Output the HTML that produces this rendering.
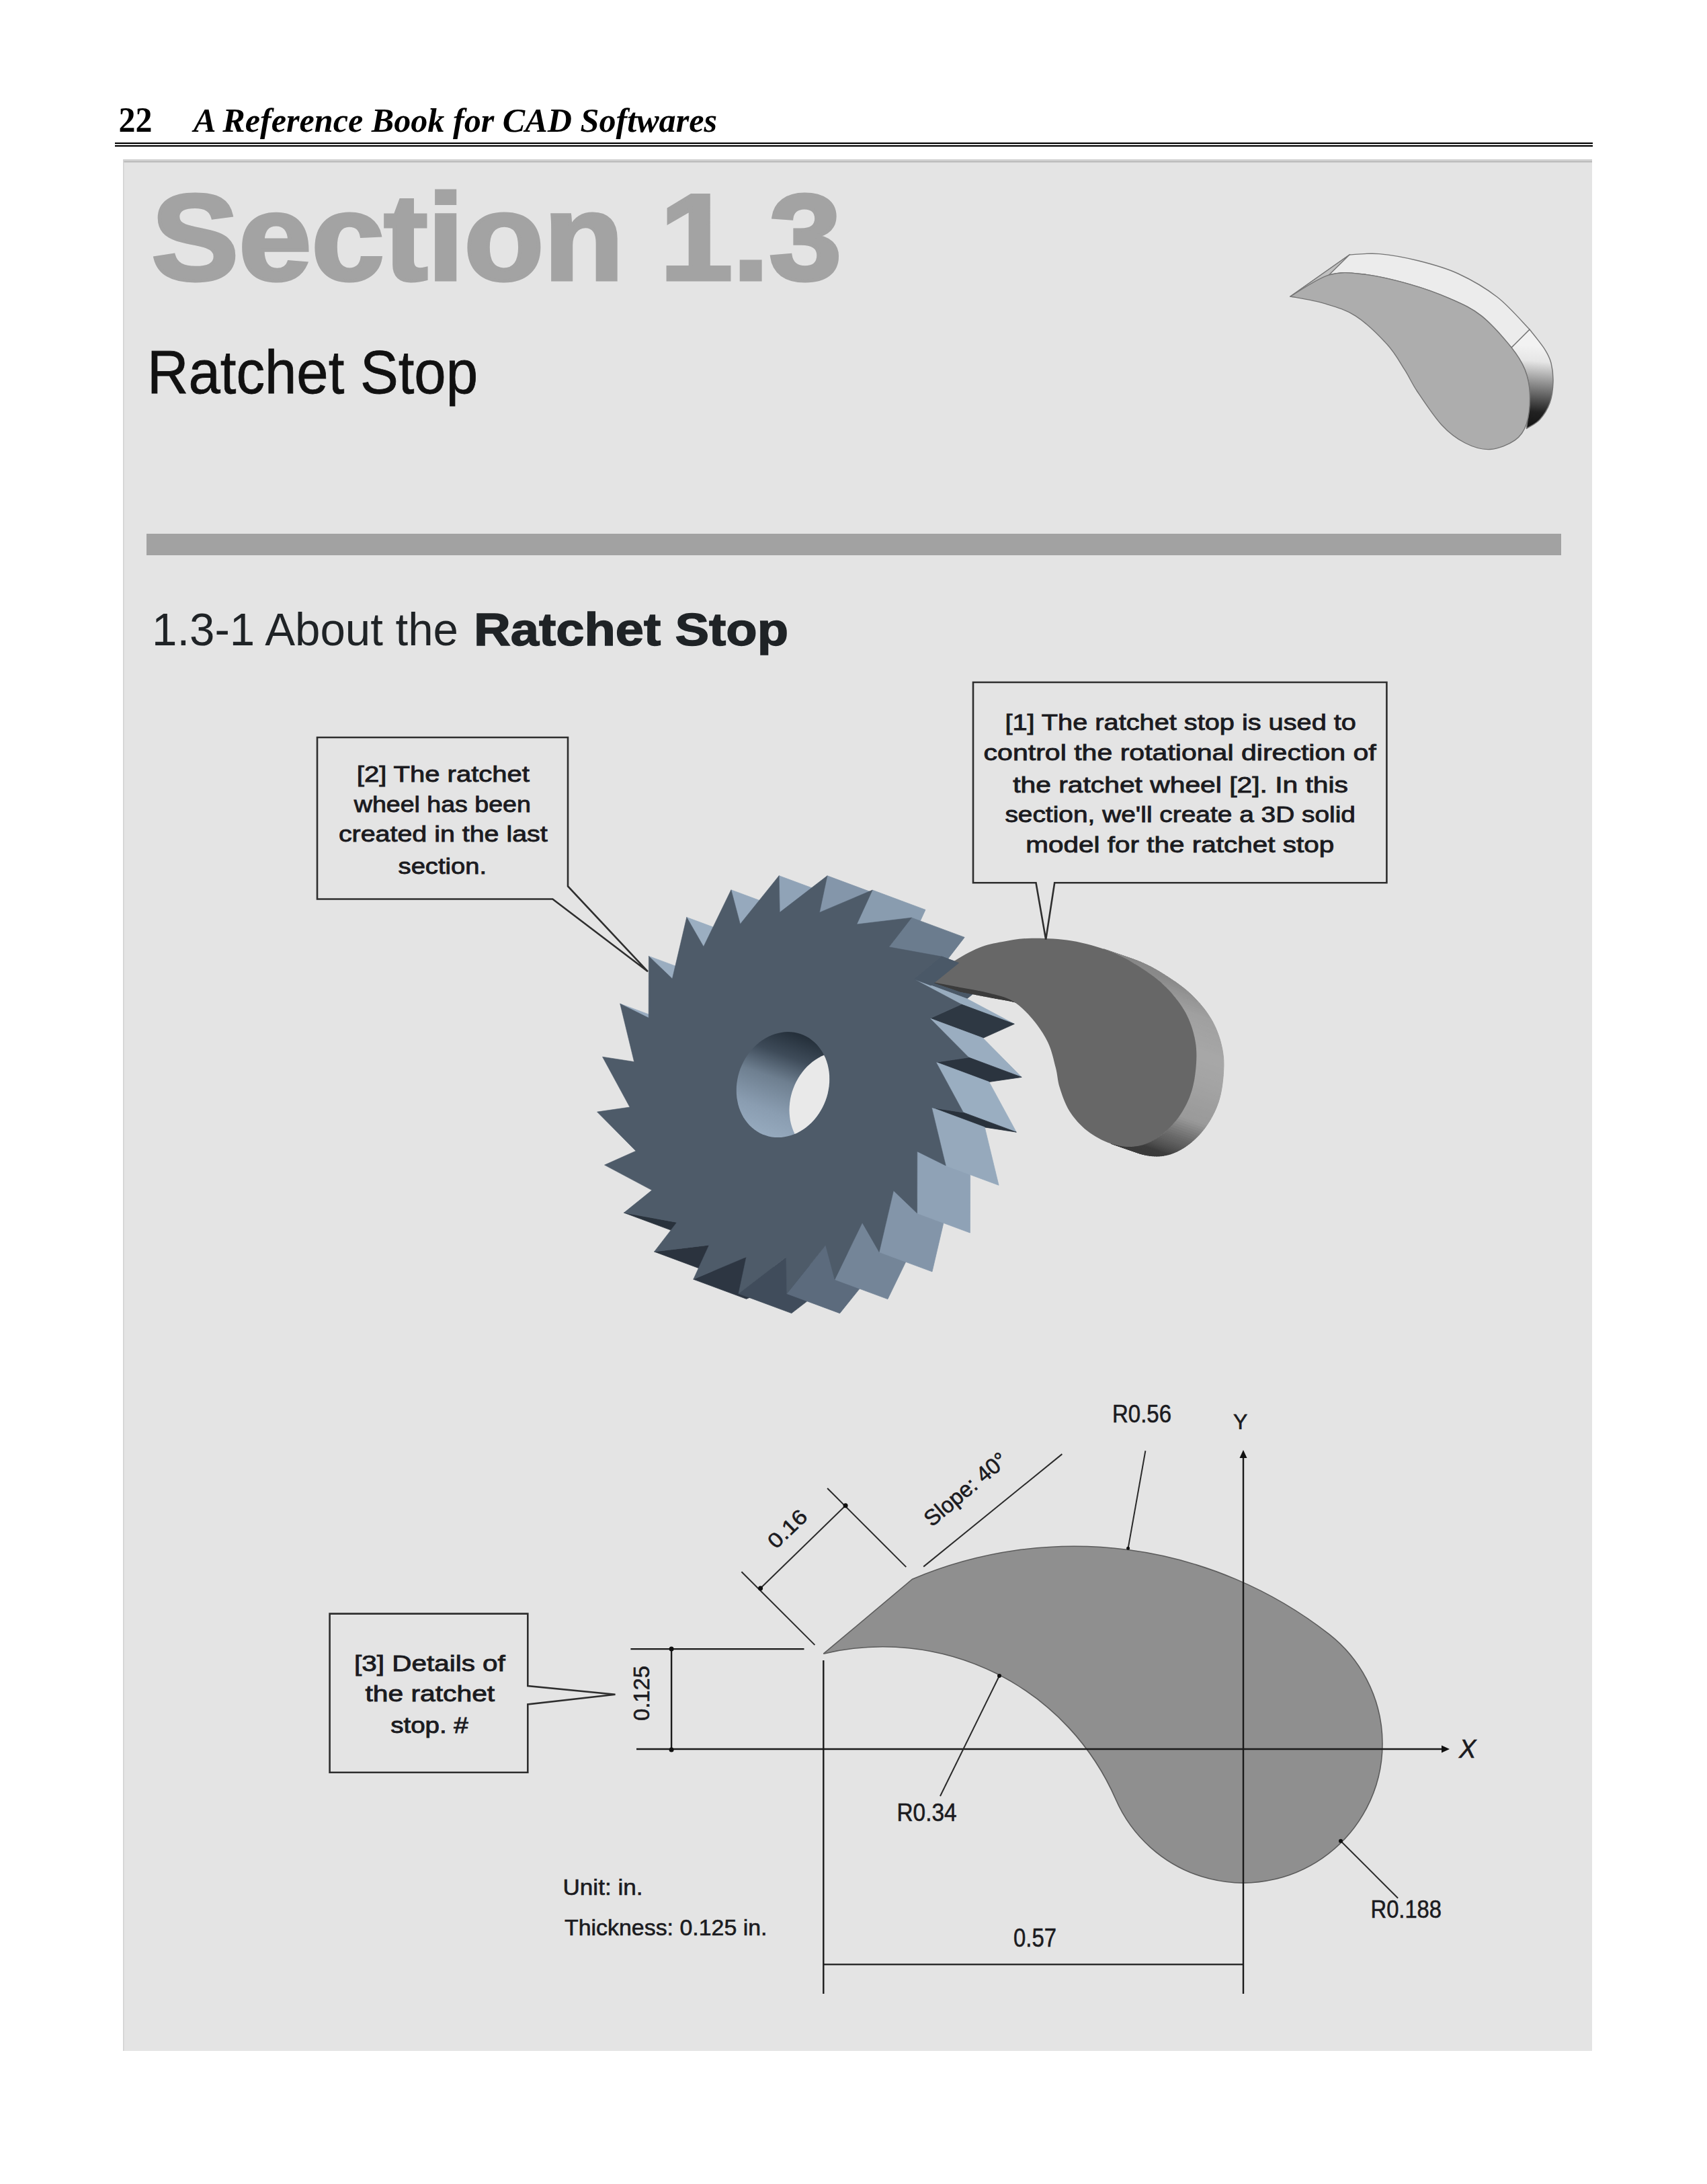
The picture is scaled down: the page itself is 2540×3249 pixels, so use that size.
<!DOCTYPE html>
<html><head><meta charset="utf-8">
<style>
html,body{margin:0;padding:0;background:#fff;}
body{width:2540px;height:3249px;position:relative;overflow:hidden;}
svg{position:absolute;left:0;top:0;}
</style></head>
<body>
<svg width="2540" height="3249" viewBox="0 0 2540 3249">
<defs>
<linearGradient id="holegrad" gradientUnits="userSpaceOnUse" x1="1185" y1="1538" x2="1130" y2="1690">
<stop offset="0" stop-color="#25303b"/><stop offset="0.22" stop-color="#3e4b59"/><stop offset="0.45" stop-color="#6e7f90"/><stop offset="0.75" stop-color="#8a9db1"/><stop offset="1" stop-color="#97abbf"/>
</linearGradient>
<linearGradient id="stopside" gradientUnits="userSpaceOnUse" x1="1700" y1="1420" x2="1700" y2="1722">
<stop offset="0" stop-color="#8a8a8a"/><stop offset="0.25" stop-color="#a0a0a0"/><stop offset="0.53" stop-color="#a8a8a8"/><stop offset="0.69" stop-color="#9a9a9a"/><stop offset="0.83" stop-color="#6a6a6a"/><stop offset="0.96" stop-color="#3c3c3c"/><stop offset="1" stop-color="#383838"/>
</linearGradient>
<linearGradient id="iconside" gradientUnits="userSpaceOnUse" x1="2290" y1="515" x2="2280" y2="640">
<stop offset="0" stop-color="#f2f2f2"/><stop offset="0.18" stop-color="#e6e6e6"/><stop offset="0.45" stop-color="#8c8c8c"/><stop offset="0.78" stop-color="#222"/><stop offset="1" stop-color="#111"/>
</linearGradient>
</defs>
<!-- header -->
<text x="176.5" y="196.4" font-family="Liberation Serif, serif" font-weight="bold" font-size="52" fill="#000" textLength="50" lengthAdjust="spacingAndGlyphs">22</text>
<text x="288" y="196.2" font-family="Liberation Serif, serif" font-weight="bold" font-style="italic" font-size="51" fill="#000" textLength="779" lengthAdjust="spacingAndGlyphs">A Reference Book for CAD Softwares</text>
<rect x="171" y="212" width="2199" height="2.2" fill="#000"/>
<rect x="171" y="216" width="2199" height="2.2" fill="#000"/>
<!-- panel -->
<rect x="183" y="237" width="2186" height="2814" fill="#e4e4e4"/>
<rect x="183" y="237" width="2186" height="3" fill="#cfcfcf"/>
<rect x="183" y="240" width="2186" height="1.5" fill="#b2b2b2"/>
<rect x="183" y="237" width="1.5" height="2814" fill="#d2d2d2"/>
<!-- titles -->
<text x="225.5" y="415.5" font-family="Liberation Sans, sans-serif" font-weight="bold" font-size="181" fill="#a3a3a3" stroke="#a3a3a3" stroke-width="5" textLength="1027" lengthAdjust="spacingAndGlyphs">Section 1.3</text>
<text x="219" y="585" font-family="Liberation Sans, sans-serif" font-size="91" fill="#111" stroke="#111" stroke-width="0.8" textLength="492" lengthAdjust="spacingAndGlyphs">Ratchet Stop</text>
<rect x="218" y="794" width="2105" height="32" fill="#a2a2a2"/>
<text x="226" y="960.4" font-family="Liberation Sans, sans-serif" font-size="69" fill="#1f2326"><tspan textLength="456" lengthAdjust="spacingAndGlyphs">1.3-1 About the</tspan></text>
<text x="705" y="960.4" font-family="Liberation Sans, sans-serif" font-weight="bold" font-size="69" fill="#1f2326" stroke="#1f2326" stroke-width="1.5" textLength="468" lengthAdjust="spacingAndGlyphs">Ratchet Stop</text>

<!-- wheel -->
<polygon points="965.2,1514.3 922.7,1493.2 1001.4,1522.4 1044.0,1543.6" fill="#98abbf" stroke="#98abbf" stroke-width="0.8" stroke-linejoin="round"/>
<polygon points="1000.4,1456.0 965.4,1422.4 1044.2,1451.6 1079.2,1485.2" fill="#9aadc0" stroke="#9aadc0" stroke-width="0.8" stroke-linejoin="round"/>
<polygon points="1046.9,1408.3 1021.8,1364.6 1100.5,1393.8 1125.7,1437.6" fill="#9baec1" stroke="#9baec1" stroke-width="0.8" stroke-linejoin="round"/>
<polygon points="1101.4,1374.7 1087.9,1323.8 1166.6,1353.0 1180.2,1403.9" fill="#96a9bd" stroke="#96a9bd" stroke-width="0.8" stroke-linejoin="round"/>
<polygon points="928.5,1804.1 1007.2,1818.4 1086.0,1847.7 1007.2,1833.3" fill="#29323c" stroke="#29323c" stroke-width="0.8" stroke-linejoin="round"/>
<polygon points="1160.2,1357.3 1159.2,1302.7 1238.0,1332.0 1239.0,1386.5" fill="#90a3b7" stroke="#90a3b7" stroke-width="0.8" stroke-linejoin="round"/>
<polygon points="973.6,1862.0 1055.2,1852.2 1133.9,1881.5 1052.4,1891.3" fill="#2b333e" stroke="#2b333e" stroke-width="0.8" stroke-linejoin="round"/>
<polygon points="1219.4,1357.4 1231.0,1302.8 1309.7,1332.1 1298.2,1386.6" fill="#8496aa" stroke="#8496aa" stroke-width="0.8" stroke-linejoin="round"/>
<polygon points="1031.8,1903.1 1110.6,1869.8 1189.4,1899.0 1110.6,1932.3" fill="#2d3642" stroke="#2d3642" stroke-width="0.8" stroke-linejoin="round"/>
<polygon points="1274.8,1375.0 1298.2,1324.1 1377.0,1353.4 1353.6,1404.2" fill="#899caf" stroke="#899caf" stroke-width="0.8" stroke-linejoin="round"/>
<polygon points="1099.0,1924.4 1169.8,1869.9 1248.5,1899.1 1177.8,1953.6" fill="#404c5b" stroke="#404c5b" stroke-width="0.8" stroke-linejoin="round"/>
<polygon points="1322.8,1408.8 1356.4,1365.2 1435.2,1394.4 1401.6,1438.0" fill="#6b7c8e" stroke="#6b7c8e" stroke-width="0.8" stroke-linejoin="round"/>
<polygon points="1170.8,1924.5 1228.6,1852.5 1307.4,1881.8 1249.6,1953.7" fill="#5c6b7d" stroke="#5c6b7d" stroke-width="0.8" stroke-linejoin="round"/>
<polygon points="1360.0,1456.6 1401.5,1423.1 1480.3,1452.4 1438.8,1485.8" fill="#4a5867" stroke="#4a5867" stroke-width="0.8" stroke-linejoin="round"/>
<polygon points="1430.5,1494.1 1360.0,1456.6 1438.8,1485.8 1509.3,1523.3" fill="#98acbf" stroke="#98acbf" stroke-width="0.8" stroke-linejoin="round"/>
<polygon points="1242.1,1903.4 1283.1,1818.9 1361.9,1848.1 1320.9,1932.6" fill="#748598" stroke="#748598" stroke-width="0.8" stroke-linejoin="round"/>
<polygon points="1383.9,1515.0 1430.5,1494.1 1509.3,1523.3 1462.7,1544.3" fill="#2e3843" stroke="#2e3843" stroke-width="0.8" stroke-linejoin="round"/>
<polygon points="1441.5,1573.1 1383.9,1515.0 1462.7,1544.3 1520.2,1602.4" fill="#9aadc0" stroke="#9aadc0" stroke-width="0.8" stroke-linejoin="round"/>
<polygon points="1308.2,1862.6 1329.6,1771.2 1408.3,1800.5 1387.0,1891.8" fill="#8395a9" stroke="#8395a9" stroke-width="0.8" stroke-linejoin="round"/>
<polygon points="1392.9,1580.2 1441.5,1573.1 1520.2,1602.4 1471.7,1609.5" fill="#2b343f" stroke="#2b343f" stroke-width="0.8" stroke-linejoin="round"/>
<polygon points="1433.5,1655.0 1392.9,1580.2 1471.7,1609.5 1512.3,1684.2" fill="#9aaec1" stroke="#9aaec1" stroke-width="0.8" stroke-linejoin="round"/>
<polygon points="1364.6,1804.8 1364.8,1712.9 1443.6,1742.1 1443.4,1834.0" fill="#8fa2b6" stroke="#8fa2b6" stroke-width="0.8" stroke-linejoin="round"/>
<polygon points="1386.4,1647.7 1433.5,1655.0 1512.3,1684.2 1465.2,1676.9" fill="#29323c" stroke="#29323c" stroke-width="0.8" stroke-linejoin="round"/>
<polygon points="1407.3,1734.0 1386.4,1647.7 1465.2,1676.9 1486.1,1763.2" fill="#96a9bc" stroke="#96a9bc" stroke-width="0.8" stroke-linejoin="round"/>
<polygon points="1441.5,1573.1 1383.9,1515.0 1430.5,1494.1 1360.0,1456.6 1401.5,1423.1 1322.8,1408.8 1356.4,1365.2 1274.8,1375.0 1298.2,1324.1 1219.4,1357.4 1231.0,1302.8 1160.2,1357.3 1159.2,1302.7 1101.4,1374.7 1087.9,1323.8 1046.9,1408.3 1021.8,1364.6 1000.4,1456.0 965.4,1422.4 965.2,1514.3 922.7,1493.2 943.6,1579.5 896.5,1572.2 937.1,1647.0 888.5,1654.1 946.1,1712.2 899.5,1733.1 970.0,1770.6 928.5,1804.1 1007.2,1818.4 973.6,1862.0 1055.2,1852.2 1031.8,1903.1 1110.6,1869.8 1099.0,1924.4 1169.8,1869.9 1170.8,1924.5 1228.6,1852.5 1242.1,1903.4 1283.1,1818.9 1308.2,1862.6 1329.6,1771.2 1364.6,1804.8 1364.8,1712.9 1407.3,1734.0 1386.4,1647.7 1433.5,1655.0 1392.9,1580.2" fill="#4e5b69" stroke="#4e5b69" stroke-width="0.6"/>
<polygon points="1234.2,1605.1 1234.1,1599.7 1233.6,1594.3 1232.7,1589.1 1231.6,1583.9 1230.1,1578.9 1228.3,1574.1 1226.1,1569.5 1223.7,1565.0 1221.0,1560.9 1218.0,1556.9 1214.8,1553.3 1211.3,1549.9 1207.6,1546.9 1203.7,1544.1 1199.6,1541.8 1195.4,1539.7 1190.9,1538.1 1186.4,1536.8 1181.8,1535.8 1177.0,1535.3 1172.2,1535.1 1167.4,1535.3 1162.6,1535.9 1157.8,1536.9 1153.0,1538.2 1148.2,1539.9 1143.6,1542.0 1139.1,1544.4 1134.6,1547.2 1130.4,1550.3 1126.3,1553.7 1122.4,1557.3 1118.7,1561.3 1115.2,1565.5 1112.0,1569.9 1109.0,1574.6 1106.3,1579.5 1103.9,1584.5 1101.7,1589.6 1099.9,1594.9 1098.4,1600.3 1097.3,1605.7 1096.4,1611.2 1095.9,1616.6 1095.8,1622.1 1095.9,1627.5 1096.4,1632.9 1097.3,1638.1 1098.4,1643.3 1099.9,1648.3 1101.7,1653.1 1103.9,1657.7 1106.3,1662.2 1109.0,1666.3 1112.0,1670.3 1115.2,1673.9 1118.7,1677.3 1122.4,1680.3 1126.3,1683.1 1130.4,1685.4 1134.6,1687.5 1139.1,1689.1 1143.6,1690.4 1148.2,1691.4 1153.0,1691.9 1157.8,1692.1 1162.6,1691.9 1167.4,1691.3 1172.2,1690.3 1177.0,1689.0 1181.8,1687.3 1186.4,1685.2 1190.9,1682.8 1195.4,1680.0 1199.6,1676.9 1203.7,1673.5 1207.6,1669.9 1211.3,1665.9 1214.8,1661.7 1218.0,1657.3 1221.0,1652.6 1223.7,1647.7 1226.1,1642.7 1228.3,1637.6 1230.1,1632.3 1231.6,1626.9 1232.7,1621.5 1233.6,1616.0 1234.1,1610.6" fill="url(#holegrad)"/>
<clipPath id="holeclip"><polygon points="1234.2,1605.1 1234.1,1599.7 1233.6,1594.3 1232.7,1589.1 1231.6,1583.9 1230.1,1578.9 1228.3,1574.1 1226.1,1569.5 1223.7,1565.0 1221.0,1560.9 1218.0,1556.9 1214.8,1553.3 1211.3,1549.9 1207.6,1546.9 1203.7,1544.1 1199.6,1541.8 1195.4,1539.7 1190.9,1538.1 1186.4,1536.8 1181.8,1535.8 1177.0,1535.3 1172.2,1535.1 1167.4,1535.3 1162.6,1535.9 1157.8,1536.9 1153.0,1538.2 1148.2,1539.9 1143.6,1542.0 1139.1,1544.4 1134.6,1547.2 1130.4,1550.3 1126.3,1553.7 1122.4,1557.3 1118.7,1561.3 1115.2,1565.5 1112.0,1569.9 1109.0,1574.6 1106.3,1579.5 1103.9,1584.5 1101.7,1589.6 1099.9,1594.9 1098.4,1600.3 1097.3,1605.7 1096.4,1611.2 1095.9,1616.6 1095.8,1622.1 1095.9,1627.5 1096.4,1632.9 1097.3,1638.1 1098.4,1643.3 1099.9,1648.3 1101.7,1653.1 1103.9,1657.7 1106.3,1662.2 1109.0,1666.3 1112.0,1670.3 1115.2,1673.9 1118.7,1677.3 1122.4,1680.3 1126.3,1683.1 1130.4,1685.4 1134.6,1687.5 1139.1,1689.1 1143.6,1690.4 1148.2,1691.4 1153.0,1691.9 1157.8,1692.1 1162.6,1691.9 1167.4,1691.3 1172.2,1690.3 1177.0,1689.0 1181.8,1687.3 1186.4,1685.2 1190.9,1682.8 1195.4,1680.0 1199.6,1676.9 1203.7,1673.5 1207.6,1669.9 1211.3,1665.9 1214.8,1661.7 1218.0,1657.3 1221.0,1652.6 1223.7,1647.7 1226.1,1642.7 1228.3,1637.6 1230.1,1632.3 1231.6,1626.9 1232.7,1621.5 1233.6,1616.0 1234.1,1610.6"/></clipPath>
<polygon points="1313.0,1634.3 1312.8,1628.9 1312.3,1623.6 1311.5,1618.3 1310.3,1613.2 1308.8,1608.2 1307.0,1603.3 1304.9,1598.7 1302.5,1594.3 1299.8,1590.1 1296.8,1586.2 1293.6,1582.5 1290.1,1579.2 1286.4,1576.1 1282.5,1573.4 1278.4,1571.0 1274.1,1569.0 1269.7,1567.3 1265.2,1566.0 1260.5,1565.1 1255.8,1564.5 1251.0,1564.3 1246.2,1564.5 1241.4,1565.1 1236.5,1566.1 1231.7,1567.5 1227.0,1569.2 1222.4,1571.2 1217.8,1573.7 1213.4,1576.4 1209.1,1579.5 1205.0,1582.9 1201.1,1586.6 1197.4,1590.5 1194.0,1594.7 1190.7,1599.2 1187.8,1603.8 1185.0,1608.7 1182.6,1613.7 1180.5,1618.9 1178.7,1624.1 1177.2,1629.5 1176.0,1634.9 1175.2,1640.4 1174.7,1645.9 1174.5,1651.3 1174.7,1656.8 1175.2,1662.1 1176.0,1667.4 1177.2,1672.5 1178.7,1677.5 1180.5,1682.3 1182.6,1687.0 1185.0,1691.4 1187.8,1695.6 1190.7,1699.5 1194.0,1703.2 1197.4,1706.5 1201.1,1709.6 1205.0,1712.3 1209.1,1714.7 1213.4,1716.7 1217.8,1718.4 1222.4,1719.7 1227.0,1720.6 1231.7,1721.2 1236.5,1721.3 1241.4,1721.1 1246.2,1720.5 1251.0,1719.6 1255.8,1718.2 1260.5,1716.5 1265.2,1714.4 1269.7,1712.0 1274.1,1709.2 1278.4,1706.2 1282.5,1702.8 1286.4,1699.1 1290.1,1695.1 1293.6,1690.9 1296.8,1686.5 1299.8,1681.8 1302.5,1677.0 1304.9,1672.0 1307.0,1666.8 1308.8,1661.5 1310.3,1656.2 1311.5,1650.7 1312.3,1645.3 1312.8,1639.8" fill="#e9e9e9" clip-path="url(#holeclip)"/>

<!-- 3D stop in main figure -->
<g id="stop3d">
<polygon points="1642.1,1411.8 1647.6,1413.7 1688.1,1427.7 1682.6,1425.8" fill="#858585" stroke="#858585" stroke-width="1"/>
<polygon points="1647.6,1413.7 1652.9,1415.7 1693.4,1429.7 1688.1,1427.7" fill="#858585" stroke="#858585" stroke-width="1"/>
<polygon points="1652.9,1415.7 1657.9,1417.7 1698.4,1431.7 1693.4,1429.7" fill="#868686" stroke="#868686" stroke-width="1"/>
<polygon points="1657.9,1417.7 1662.7,1419.8 1703.2,1433.8 1698.4,1431.7" fill="#868686" stroke="#868686" stroke-width="1"/>
<polygon points="1662.7,1419.8 1667.3,1422.0 1707.8,1436.0 1703.2,1433.8" fill="#878787" stroke="#878787" stroke-width="1"/>
<polygon points="1667.3,1422.0 1671.8,1424.2 1712.3,1438.2 1707.8,1436.0" fill="#878787" stroke="#878787" stroke-width="1"/>
<polygon points="1671.8,1424.2 1676.1,1426.5 1716.6,1440.5 1712.3,1438.2" fill="#888888" stroke="#888888" stroke-width="1"/>
<polygon points="1676.1,1426.5 1680.4,1428.9 1720.9,1442.9 1716.6,1440.5" fill="#888888" stroke="#888888" stroke-width="1"/>
<polygon points="1680.4,1428.9 1684.5,1431.3 1725.0,1445.3 1720.9,1442.9" fill="#888888" stroke="#888888" stroke-width="1"/>
<polygon points="1684.5,1431.3 1688.6,1433.8 1729.1,1447.8 1725.0,1445.3" fill="#888888" stroke="#888888" stroke-width="1"/>
<polygon points="1688.6,1433.8 1692.7,1436.4 1733.2,1450.4 1729.1,1447.8" fill="#898989" stroke="#898989" stroke-width="1"/>
<polygon points="1692.7,1436.4 1696.8,1439.0 1737.3,1453.0 1733.2,1450.4" fill="#898989" stroke="#898989" stroke-width="1"/>
<polygon points="1696.8,1439.0 1700.9,1441.7 1741.4,1455.7 1737.3,1453.0" fill="#898989" stroke="#898989" stroke-width="1"/>
<polygon points="1700.9,1441.7 1704.9,1444.4 1745.4,1458.4 1741.4,1455.7" fill="#898989" stroke="#898989" stroke-width="1"/>
<polygon points="1704.9,1444.4 1709.0,1447.1 1749.5,1461.1 1745.4,1458.4" fill="#898989" stroke="#898989" stroke-width="1"/>
<polygon points="1709.0,1447.1 1712.9,1449.9 1753.4,1463.9 1749.5,1461.1" fill="#8a8a8a" stroke="#8a8a8a" stroke-width="1"/>
<polygon points="1712.9,1449.9 1716.8,1452.8 1757.3,1466.8 1753.4,1463.9" fill="#8b8b8b" stroke="#8b8b8b" stroke-width="1"/>
<polygon points="1716.8,1452.8 1720.6,1455.7 1761.1,1469.7 1757.3,1466.8" fill="#8c8c8c" stroke="#8c8c8c" stroke-width="1"/>
<polygon points="1720.6,1455.7 1724.4,1458.7 1764.9,1472.7 1761.1,1469.7" fill="#8d8d8d" stroke="#8d8d8d" stroke-width="1"/>
<polygon points="1724.4,1458.7 1728.0,1461.9 1768.5,1475.9 1764.9,1472.7" fill="#8e8e8e" stroke="#8e8e8e" stroke-width="1"/>
<polygon points="1728.0,1461.9 1731.6,1465.1 1772.1,1479.1 1768.5,1475.9" fill="#909090" stroke="#909090" stroke-width="1"/>
<polygon points="1731.6,1465.1 1735.0,1468.4 1775.5,1482.4 1772.1,1479.1" fill="#919191" stroke="#919191" stroke-width="1"/>
<polygon points="1735.0,1468.4 1738.3,1471.8 1778.8,1485.8 1775.5,1482.4" fill="#939393" stroke="#939393" stroke-width="1"/>
<polygon points="1738.3,1471.8 1741.6,1475.4 1782.1,1489.4 1778.8,1485.8" fill="#949494" stroke="#949494" stroke-width="1"/>
<polygon points="1741.6,1475.4 1744.9,1479.0 1785.4,1493.0 1782.1,1489.4" fill="#959595" stroke="#959595" stroke-width="1"/>
<polygon points="1744.9,1479.0 1748.0,1482.7 1788.5,1496.7 1785.4,1493.0" fill="#979797" stroke="#979797" stroke-width="1"/>
<polygon points="1748.0,1482.7 1751.1,1486.5 1791.6,1500.5 1788.5,1496.7" fill="#989898" stroke="#989898" stroke-width="1"/>
<polygon points="1751.1,1486.5 1754.0,1490.4 1794.5,1504.4 1791.6,1500.5" fill="#999999" stroke="#999999" stroke-width="1"/>
<polygon points="1754.0,1490.4 1756.8,1494.4 1797.3,1508.4 1794.5,1504.4" fill="#9b9b9b" stroke="#9b9b9b" stroke-width="1"/>
<polygon points="1756.8,1494.4 1759.4,1498.4 1799.9,1512.4 1797.3,1508.4" fill="#9c9c9c" stroke="#9c9c9c" stroke-width="1"/>
<polygon points="1759.4,1498.4 1761.9,1502.4 1802.4,1516.4 1799.9,1512.4" fill="#9e9e9e" stroke="#9e9e9e" stroke-width="1"/>
<polygon points="1761.9,1502.4 1764.2,1506.5 1804.7,1520.5 1802.4,1516.4" fill="#a0a0a0" stroke="#a0a0a0" stroke-width="1"/>
<polygon points="1764.2,1506.5 1766.3,1510.7 1806.8,1524.7 1804.7,1520.5" fill="#a0a0a0" stroke="#a0a0a0" stroke-width="1"/>
<polygon points="1766.3,1510.7 1768.3,1514.9 1808.8,1528.9 1806.8,1524.7" fill="#a1a1a1" stroke="#a1a1a1" stroke-width="1"/>
<polygon points="1768.3,1514.9 1770.1,1519.2 1810.6,1533.2 1808.8,1528.9" fill="#a1a1a1" stroke="#a1a1a1" stroke-width="1"/>
<polygon points="1770.1,1519.2 1771.8,1523.6 1812.3,1537.6 1810.6,1533.2" fill="#a2a2a2" stroke="#a2a2a2" stroke-width="1"/>
<polygon points="1771.8,1523.6 1773.4,1528.1 1813.9,1542.1 1812.3,1537.6" fill="#a2a2a2" stroke="#a2a2a2" stroke-width="1"/>
<polygon points="1773.4,1528.1 1774.8,1532.6 1815.3,1546.6 1813.9,1542.1" fill="#a3a3a3" stroke="#a3a3a3" stroke-width="1"/>
<polygon points="1774.8,1532.6 1776.0,1537.0 1816.5,1551.0 1815.3,1546.6" fill="#a3a3a3" stroke="#a3a3a3" stroke-width="1"/>
<polygon points="1776.0,1537.0 1777.1,1541.5 1817.6,1555.5 1816.5,1551.0" fill="#a4a4a4" stroke="#a4a4a4" stroke-width="1"/>
<polygon points="1777.1,1541.5 1778.1,1546.0 1818.6,1560.0 1817.6,1555.5" fill="#a4a4a4" stroke="#a4a4a4" stroke-width="1"/>
<polygon points="1778.1,1546.0 1778.9,1550.4 1819.4,1564.4 1818.6,1560.0" fill="#a5a5a5" stroke="#a5a5a5" stroke-width="1"/>
<polygon points="1778.9,1550.4 1779.5,1554.8 1820.0,1568.8 1819.4,1564.4" fill="#a5a5a5" stroke="#a5a5a5" stroke-width="1"/>
<polygon points="1779.5,1554.8 1780.0,1559.3 1820.5,1573.3 1820.0,1568.8" fill="#a6a6a6" stroke="#a6a6a6" stroke-width="1"/>
<polygon points="1780.0,1559.3 1780.3,1563.8 1820.8,1577.8 1820.5,1573.3" fill="#a7a7a7" stroke="#a7a7a7" stroke-width="1"/>
<polygon points="1780.3,1563.8 1780.4,1568.2 1820.9,1582.2 1820.8,1577.8" fill="#a7a7a7" stroke="#a7a7a7" stroke-width="1"/>
<polygon points="1780.4,1568.2 1780.4,1572.7 1820.9,1586.7 1820.9,1582.2" fill="#a7a7a7" stroke="#a7a7a7" stroke-width="1"/>
<polygon points="1780.4,1572.7 1780.2,1577.2 1820.7,1591.2 1820.9,1586.7" fill="#a7a7a7" stroke="#a7a7a7" stroke-width="1"/>
<polygon points="1780.2,1577.2 1780.0,1581.6 1820.5,1595.6 1820.7,1591.2" fill="#a6a6a6" stroke="#a6a6a6" stroke-width="1"/>
<polygon points="1780.0,1581.6 1779.7,1585.9 1820.2,1599.9 1820.5,1595.6" fill="#a6a6a6" stroke="#a6a6a6" stroke-width="1"/>
<polygon points="1779.7,1585.9 1779.3,1590.1 1819.8,1604.1 1820.2,1599.9" fill="#a5a5a5" stroke="#a5a5a5" stroke-width="1"/>
<polygon points="1779.3,1590.1 1778.9,1594.3 1819.4,1608.3 1819.8,1604.1" fill="#a5a5a5" stroke="#a5a5a5" stroke-width="1"/>
<polygon points="1778.9,1594.3 1778.4,1598.4 1818.9,1612.4 1819.4,1608.3" fill="#a5a5a5" stroke="#a5a5a5" stroke-width="1"/>
<polygon points="1778.4,1598.4 1777.9,1602.3 1818.4,1616.3 1818.9,1612.4" fill="#a4a4a4" stroke="#a4a4a4" stroke-width="1"/>
<polygon points="1777.9,1602.3 1777.2,1606.2 1817.7,1620.2 1818.4,1616.3" fill="#a4a4a4" stroke="#a4a4a4" stroke-width="1"/>
<polygon points="1777.2,1606.2 1776.5,1610.1 1817.0,1624.1 1817.7,1620.2" fill="#a3a3a3" stroke="#a3a3a3" stroke-width="1"/>
<polygon points="1776.5,1610.1 1775.7,1613.9 1816.2,1627.9 1817.0,1624.1" fill="#a3a3a3" stroke="#a3a3a3" stroke-width="1"/>
<polygon points="1775.7,1613.9 1774.8,1617.6 1815.3,1631.6 1816.2,1627.9" fill="#a2a2a2" stroke="#a2a2a2" stroke-width="1"/>
<polygon points="1774.8,1617.6 1773.8,1621.4 1814.3,1635.4 1815.3,1631.6" fill="#a1a1a1" stroke="#a1a1a1" stroke-width="1"/>
<polygon points="1773.8,1621.4 1772.7,1625.1 1813.2,1639.1 1814.3,1635.4" fill="#a1a1a1" stroke="#a1a1a1" stroke-width="1"/>
<polygon points="1772.7,1625.1 1771.4,1628.7 1811.9,1642.7 1813.2,1639.1" fill="#a0a0a0" stroke="#a0a0a0" stroke-width="1"/>
<polygon points="1771.4,1628.7 1770.0,1632.4 1810.5,1646.4 1811.9,1642.7" fill="#9f9f9f" stroke="#9f9f9f" stroke-width="1"/>
<polygon points="1770.0,1632.4 1768.5,1636.1 1809.0,1650.1 1810.5,1646.4" fill="#9e9e9e" stroke="#9e9e9e" stroke-width="1"/>
<polygon points="1768.5,1636.1 1766.8,1639.8 1807.3,1653.8 1809.0,1650.1" fill="#9e9e9e" stroke="#9e9e9e" stroke-width="1"/>
<polygon points="1766.8,1639.8 1765.0,1643.5 1805.5,1657.5 1807.3,1653.8" fill="#9d9d9d" stroke="#9d9d9d" stroke-width="1"/>
<polygon points="1765.0,1643.5 1763.1,1647.1 1803.6,1661.1 1805.5,1657.5" fill="#9c9c9c" stroke="#9c9c9c" stroke-width="1"/>
<polygon points="1763.1,1647.1 1761.1,1650.7 1801.6,1664.7 1803.6,1661.1" fill="#9c9c9c" stroke="#9c9c9c" stroke-width="1"/>
<polygon points="1761.1,1650.7 1759.0,1654.3 1799.5,1668.3 1801.6,1664.7" fill="#9b9b9b" stroke="#9b9b9b" stroke-width="1"/>
<polygon points="1759.0,1654.3 1756.7,1657.8 1797.2,1671.8 1799.5,1668.3" fill="#9b9b9b" stroke="#9b9b9b" stroke-width="1"/>
<polygon points="1756.7,1657.8 1754.4,1661.2 1794.9,1675.2 1797.2,1671.8" fill="#9a9a9a" stroke="#9a9a9a" stroke-width="1"/>
<polygon points="1754.4,1661.2 1752.1,1664.5 1792.6,1678.5 1794.9,1675.2" fill="#969696" stroke="#969696" stroke-width="1"/>
<polygon points="1752.1,1664.5 1749.6,1667.6 1790.1,1681.6 1792.6,1678.5" fill="#909090" stroke="#909090" stroke-width="1"/>
<polygon points="1749.6,1667.6 1747.0,1670.7 1787.5,1684.7 1790.1,1681.6" fill="#8a8a8a" stroke="#8a8a8a" stroke-width="1"/>
<polygon points="1747.0,1670.7 1744.4,1673.7 1784.9,1687.7 1787.5,1684.7" fill="#848484" stroke="#848484" stroke-width="1"/>
<polygon points="1744.4,1673.7 1741.6,1676.6 1782.1,1690.6 1784.9,1687.7" fill="#7e7e7e" stroke="#7e7e7e" stroke-width="1"/>
<polygon points="1741.6,1676.6 1738.7,1679.5 1779.2,1693.5 1782.1,1690.6" fill="#787878" stroke="#787878" stroke-width="1"/>
<polygon points="1738.7,1679.5 1735.7,1682.2 1776.2,1696.2 1779.2,1693.5" fill="#737373" stroke="#737373" stroke-width="1"/>
<polygon points="1735.7,1682.2 1732.7,1684.9 1773.2,1698.9 1776.2,1696.2" fill="#6d6d6d" stroke="#6d6d6d" stroke-width="1"/>
<polygon points="1732.7,1684.9 1729.6,1687.4 1770.1,1701.4 1773.2,1698.9" fill="#686868" stroke="#686868" stroke-width="1"/>
<polygon points="1729.6,1687.4 1726.5,1689.7 1767.0,1703.7 1770.1,1701.4" fill="#646464" stroke="#646464" stroke-width="1"/>
<polygon points="1726.5,1689.7 1723.4,1691.9 1763.9,1705.9 1767.0,1703.7" fill="#616161" stroke="#616161" stroke-width="1"/>
<polygon points="1723.4,1691.9 1720.3,1693.9 1760.8,1707.9 1763.9,1705.9" fill="#5c5c5c" stroke="#5c5c5c" stroke-width="1"/>
<polygon points="1720.3,1693.9 1717.2,1695.7 1757.7,1709.7 1760.8,1707.9" fill="#585858" stroke="#585858" stroke-width="1"/>
<polygon points="1717.2,1695.7 1714.1,1697.4 1754.6,1711.4 1757.7,1709.7" fill="#545454" stroke="#545454" stroke-width="1"/>
<polygon points="1714.1,1697.4 1710.9,1699.0 1751.4,1713.0 1754.6,1711.4" fill="#505050" stroke="#505050" stroke-width="1"/>
<polygon points="1710.9,1699.0 1707.7,1700.4 1748.2,1714.4 1751.4,1713.0" fill="#4c4c4c" stroke="#4c4c4c" stroke-width="1"/>
<polygon points="1707.7,1700.4 1704.5,1701.7 1745.0,1715.7 1748.2,1714.4" fill="#474747" stroke="#474747" stroke-width="1"/>
<polygon points="1704.5,1701.7 1701.3,1702.8 1741.8,1716.8 1745.0,1715.7" fill="#434343" stroke="#434343" stroke-width="1"/>
<polygon points="1701.3,1702.8 1698.0,1703.7 1738.5,1717.7 1741.8,1716.8" fill="#3e3e3e" stroke="#3e3e3e" stroke-width="1"/>
<polygon points="1698.0,1703.7 1694.7,1704.5 1735.2,1718.5 1738.5,1717.7" fill="#3b3b3b" stroke="#3b3b3b" stroke-width="1"/>
<polygon points="1694.7,1704.5 1691.4,1705.1 1731.9,1719.1 1735.2,1718.5" fill="#3b3b3b" stroke="#3b3b3b" stroke-width="1"/>
<polygon points="1691.4,1705.1 1688.0,1705.6 1728.5,1719.6 1731.9,1719.1" fill="#3b3b3b" stroke="#3b3b3b" stroke-width="1"/>
<polygon points="1688.0,1705.6 1684.6,1705.9 1725.1,1719.9 1728.5,1719.6" fill="#3a3a3a" stroke="#3a3a3a" stroke-width="1"/>
<polygon points="1684.6,1705.9 1681.2,1706.0 1721.7,1720.0 1725.1,1719.9" fill="#3a3a3a" stroke="#3a3a3a" stroke-width="1"/>
<polygon points="1681.2,1706.0 1677.7,1705.9 1718.2,1719.9 1721.7,1720.0" fill="#3a3a3a" stroke="#3a3a3a" stroke-width="1"/>
<polygon points="1677.7,1705.9 1674.2,1705.7 1714.7,1719.7 1718.2,1719.9" fill="#3a3a3a" stroke="#3a3a3a" stroke-width="1"/>
<polygon points="1674.2,1705.7 1670.6,1705.3 1711.1,1719.3 1714.7,1719.7" fill="#3b3b3b" stroke="#3b3b3b" stroke-width="1"/>
<polygon points="1670.6,1705.3 1667.1,1704.8 1707.6,1718.8 1711.1,1719.3" fill="#3b3b3b" stroke="#3b3b3b" stroke-width="1"/>
<polygon points="1667.1,1704.8 1663.5,1704.1 1704.0,1718.1 1707.6,1718.8" fill="#3c3c3c" stroke="#3c3c3c" stroke-width="1"/>
<polygon points="1663.5,1704.1 1660.0,1703.3 1700.5,1717.3 1704.0,1718.1" fill="#3c3c3c" stroke="#3c3c3c" stroke-width="1"/>
<polygon points="1660.0,1703.3 1656.4,1702.3 1696.9,1716.3 1700.5,1717.3" fill="#3d3d3d" stroke="#3d3d3d" stroke-width="1"/>
<polygon points="1656.4,1702.3 1652.9,1701.2 1693.4,1715.2 1696.9,1716.3" fill="#3d3d3d" stroke="#3d3d3d" stroke-width="1"/>
<polygon points="1493.0,1483.0 1489.5,1481.9 1530.0,1495.9 1533.5,1497.0" fill="#3d3d3d" stroke="#3d3d3d" stroke-width="1"/>
<polygon points="1489.5,1481.9 1485.9,1480.9 1526.4,1494.9 1530.0,1495.9" fill="#3d3d3d" stroke="#3d3d3d" stroke-width="1"/>
<polygon points="1485.9,1480.9 1482.3,1479.9 1522.8,1493.9 1526.4,1494.9" fill="#3c3c3c" stroke="#3c3c3c" stroke-width="1"/>
<polygon points="1482.3,1479.9 1478.6,1479.0 1519.1,1493.0 1522.8,1493.9" fill="#3c3c3c" stroke="#3c3c3c" stroke-width="1"/>
<polygon points="1478.6,1479.0 1475.0,1478.1 1515.5,1492.1 1519.1,1493.0" fill="#3c3c3c" stroke="#3c3c3c" stroke-width="1"/>
<polygon points="1475.0,1478.1 1471.3,1477.2 1511.8,1491.2 1515.5,1492.1" fill="#3c3c3c" stroke="#3c3c3c" stroke-width="1"/>
<polygon points="1471.3,1477.2 1467.6,1476.3 1508.1,1490.3 1511.8,1491.2" fill="#3c3c3c" stroke="#3c3c3c" stroke-width="1"/>
<polygon points="1467.6,1476.3 1464.0,1475.5 1504.5,1489.5 1508.1,1490.3" fill="#3c3c3c" stroke="#3c3c3c" stroke-width="1"/>
<polygon points="1464.0,1475.5 1460.3,1474.7 1500.8,1488.7 1504.5,1489.5" fill="#3c3c3c" stroke="#3c3c3c" stroke-width="1"/>
<polygon points="1460.3,1474.7 1456.6,1474.0 1497.1,1488.0 1500.8,1488.7" fill="#3c3c3c" stroke="#3c3c3c" stroke-width="1"/>
<polygon points="1456.6,1474.0 1452.9,1473.3 1493.4,1487.3 1497.1,1488.0" fill="#3c3c3c" stroke="#3c3c3c" stroke-width="1"/>
<polygon points="1452.9,1473.3 1449.1,1472.7 1489.6,1486.7 1493.4,1487.3" fill="#3b3b3b" stroke="#3b3b3b" stroke-width="1"/>
<polygon points="1449.1,1472.7 1445.3,1472.0 1485.8,1486.0 1489.6,1486.7" fill="#3b3b3b" stroke="#3b3b3b" stroke-width="1"/>
<polygon points="1445.3,1472.0 1441.3,1471.3 1481.8,1485.3 1485.8,1486.0" fill="#3b3b3b" stroke="#3b3b3b" stroke-width="1"/>
<polygon points="1441.3,1471.3 1437.3,1470.6 1477.8,1484.6 1481.8,1485.3" fill="#3c3c3c" stroke="#3c3c3c" stroke-width="1"/>
<polygon points="1437.3,1470.6 1433.2,1469.8 1473.7,1483.8 1477.8,1484.6" fill="#3c3c3c" stroke="#3c3c3c" stroke-width="1"/>
<polygon points="1433.2,1469.8 1428.8,1468.9 1469.3,1482.9 1473.7,1483.8" fill="#3c3c3c" stroke="#3c3c3c" stroke-width="1"/>
<polygon points="1428.8,1468.9 1423.9,1468.0 1464.4,1482.0 1469.3,1482.9" fill="#3c3c3c" stroke="#3c3c3c" stroke-width="1"/>
<polygon points="1423.9,1468.0 1418.7,1467.0 1459.2,1481.0 1464.4,1482.0" fill="#3c3c3c" stroke="#3c3c3c" stroke-width="1"/>
<polygon points="1418.7,1467.0 1413.4,1466.0 1453.9,1480.0 1459.2,1481.0" fill="#3c3c3c" stroke="#3c3c3c" stroke-width="1"/>
<polygon points="1413.4,1466.0 1408.1,1464.9 1448.6,1478.9 1453.9,1480.0" fill="#3c3c3c" stroke="#3c3c3c" stroke-width="1"/>
<polygon points="1408.1,1464.9 1403.0,1464.0 1443.5,1478.0 1448.6,1478.9" fill="#3c3c3c" stroke="#3c3c3c" stroke-width="1"/>
<polygon points="1403.0,1464.0 1398.3,1463.0 1438.8,1477.0 1443.5,1478.0" fill="#3c3c3c" stroke="#3c3c3c" stroke-width="1"/>
<polygon points="1398.3,1463.0 1394.1,1462.2 1434.6,1476.2 1438.8,1477.0" fill="#3c3c3c" stroke="#3c3c3c" stroke-width="1"/>
<polygon points="1394.1,1462.2 1390.5,1461.5 1431.0,1475.5 1434.6,1476.2" fill="#3c3c3c" stroke="#3c3c3c" stroke-width="1"/>
<polygon points="1390.5,1461.5 1387.8,1461.0 1428.3,1475.0 1431.0,1475.5" fill="#3c3c3c" stroke="#3c3c3c" stroke-width="1"/>
<path id="stopfront" fill="#676767" d="M1387.8,1461.0 C1392.7,1456.2 1405.5,1440.5 1417.0,1432.0 C1428.5,1423.5 1444.2,1415.2 1456.7,1410.0 C1469.2,1404.8 1478.6,1403.4 1491.8,1401.0 C1505.0,1398.6 1518.6,1396.0 1535.7,1395.7 C1552.8,1395.5 1574.8,1396.2 1594.3,1399.5 C1613.8,1402.8 1635.8,1409.1 1652.9,1415.7 C1670.0,1422.3 1683.1,1430.2 1696.8,1439.0 C1710.5,1447.8 1723.8,1457.2 1735.0,1468.4 C1746.2,1479.7 1756.9,1492.8 1764.2,1506.5 C1771.5,1520.2 1776.5,1535.8 1778.9,1550.4 C1781.4,1565.0 1780.4,1580.6 1778.9,1594.3 C1777.4,1608.0 1774.9,1620.2 1770.0,1632.4 C1765.1,1644.6 1757.9,1657.3 1749.6,1667.6 C1741.3,1677.8 1730.6,1687.6 1720.3,1693.9 C1710.0,1700.2 1699.2,1704.4 1688.0,1705.6 C1676.8,1706.8 1664.6,1705.1 1652.9,1701.2 C1641.2,1697.3 1628.0,1690.2 1617.8,1682.2 C1607.5,1674.2 1598.2,1663.6 1591.4,1652.9 C1584.6,1642.2 1580.2,1628.5 1576.8,1617.8 C1573.4,1607.1 1573.8,1599.7 1570.9,1588.5 C1568.0,1577.3 1565.1,1562.6 1559.2,1550.4 C1553.3,1538.2 1544.5,1525.5 1535.7,1515.2 C1526.9,1505.0 1517.2,1495.2 1506.5,1488.9 C1495.8,1482.6 1483.5,1480.4 1471.3,1477.2 C1459.1,1474.0 1447.1,1472.5 1433.2,1469.8 C1419.3,1467.1 1395.4,1462.5 1387.8,1461.0 Z"/>
</g>
<polygon points="1360.0,1456.6 1401.5,1423.1 1426.7,1432.5 1385.2,1465.9" fill="#4a5867" stroke="#4a5867" stroke-width="0.8" stroke-linejoin="round"/>

<!-- callouts -->
<g fill="none" stroke="#2e2e2e" stroke-width="2.6" stroke-linejoin="miter">
<path d="M472,1097 H845 V1318.5 L964,1445.3 L822.3,1337.5 H472 Z"/>
<path d="M1448,1015 H2063.4 V1313.3 H1569.2 L1556.2,1397.6 L1541.5,1313.3 H1448 Z"/>
<path d="M490.6,2400.6 H785.3 V2508 L915.5,2520.7 L785.3,2535.4 V2636.8 H490.6 Z"/>
</g>
<g font-family="Liberation Sans, sans-serif" font-size="33.5" fill="#1b1b1f" stroke="#1b1b1f" stroke-width="0.9">
<text x="530.8" y="1163.4" textLength="257" lengthAdjust="spacingAndGlyphs">[2] The ratchet</text>
<text x="526.8" y="1207.6" textLength="263" lengthAdjust="spacingAndGlyphs">wheel has been</text>
<text x="503.9" y="1251.5" textLength="310.8" lengthAdjust="spacingAndGlyphs">created in the last</text>
<text x="592.6" y="1300.3" textLength="131.4" lengthAdjust="spacingAndGlyphs">section.</text>

<text x="1495.4" y="1086.3" textLength="522.5" lengthAdjust="spacingAndGlyphs">[1] The ratchet stop is used to</text>
<text x="1463.6" y="1130.8" textLength="584.2" lengthAdjust="spacingAndGlyphs">control the rotational direction of</text>
<text x="1507.2" y="1178.9" textLength="498.8" lengthAdjust="spacingAndGlyphs">the ratchet wheel [2].  In this</text>
<text x="1495.4" y="1223.4" textLength="521.6" lengthAdjust="spacingAndGlyphs">section, we'll create a 3D solid</text>
<text x="1526.3" y="1267.9" textLength="458.9" lengthAdjust="spacingAndGlyphs">model for the ratchet stop</text>

<text x="527.1" y="2485.6" textLength="224.7" lengthAdjust="spacingAndGlyphs">[3] Details of</text>
<text x="543.5" y="2530.7" textLength="192.7" lengthAdjust="spacingAndGlyphs">the ratchet</text>
<text x="581.2" y="2578.3" textLength="115.6" lengthAdjust="spacingAndGlyphs">stop. #</text>
</g>

<!-- top-right icon -->
<g stroke="#757575" stroke-width="1.4" stroke-linejoin="round">
<path d="M2276.0,490.0 C2279.7,494.9 2293.1,511.0 2298.4,519.3 C2303.7,527.6 2305.9,531.8 2308.0,540.0 C2310.1,548.2 2311.3,558.5 2311.0,568.4 C2310.7,578.3 2309.4,590.0 2306.1,599.3 C2302.8,608.6 2297.1,617.6 2291.3,624.0 C2285.5,630.4 2274.8,635.3 2271.5,637.6 C2272.3,629.1 2276.8,601.5 2276.4,586.9 C2276.0,572.3 2273.6,561.4 2269.0,549.8 C2264.4,538.1 2252.3,522.5 2249.0,517.0 Z" fill="url(#iconside)"/>
<path d="M1920.0,441.0 L2008.0,379.0 C2015.3,378.8 2034.8,376.1 2052.0,377.6 C2069.2,379.1 2091.4,383.1 2111.0,388.0 C2130.6,392.9 2150.0,398.0 2169.5,407.0 C2189.0,416.0 2210.2,428.2 2228.0,442.0 C2245.8,455.8 2268.0,482.0 2276.0,490.0 L2249.0,517.0 C2241.6,509.2 2219.8,482.2 2204.6,470.1 C2189.4,458.0 2175.4,452.2 2157.8,444.4 C2140.2,436.6 2120.7,429.4 2099.2,423.3 C2077.7,417.2 2049.2,410.4 2028.9,408.0 C2008.6,405.6 1995.5,403.7 1977.3,409.2 C1959.1,414.7 1929.5,435.7 1920.0,441.0 Z" fill="#ececec"/>
<polygon points="1920,441 2008,379 1977.3,409.2" fill="#c0c0c0"/>
<path d="M1920.0,441.0 C1929.5,435.7 1959.1,414.7 1977.3,409.2 C1995.5,403.7 2008.6,405.6 2028.9,408.0 C2049.2,410.4 2077.7,417.2 2099.2,423.3 C2120.7,429.4 2140.2,436.6 2157.8,444.4 C2175.4,452.2 2189.4,458.0 2204.6,470.1 C2219.8,482.2 2238.3,503.7 2249.0,517.0 C2259.7,530.3 2264.4,538.1 2269.0,549.8 C2273.6,561.4 2276.0,573.5 2276.4,586.9 C2276.8,600.3 2275.2,618.9 2271.5,630.2 C2267.8,641.5 2263.3,648.5 2254.2,654.9 C2245.1,661.3 2229.5,667.8 2217.1,668.5 C2204.7,669.2 2192.0,665.1 2180.0,659.0 C2168.0,652.9 2156.8,644.8 2145.0,632.0 C2133.2,619.2 2118.1,596.1 2109.0,582.5 C2099.9,568.9 2097.7,561.9 2090.2,550.2 C2082.7,538.5 2076.2,525.6 2064.0,512.3 C2051.8,498.9 2032.8,480.2 2017.2,470.1 C2001.6,460.0 1986.5,456.2 1970.3,451.4 C1954.1,446.5 1928.4,442.7 1920.0,441.0 Z" fill="#adadad"/>
</g>

<!-- 2D drawing -->
<path id="shape2d" fill="#8f8f8f" stroke="#5c5c5c" stroke-width="1.6" d="M1225.30,2460.22 L1357.54,2349.26 A616.0,616.0 0 0 1 1977.44,2430.88 A207.0,207.0 0 1 1 1660.24,2676.71 A378.0,378.0 0 0 0 1225.30,2460.22 Z"/>
<g stroke="#1a1a1a" stroke-width="2.4" fill="none">
<line x1="947" y1="2602" x2="2148" y2="2602"/>
<line x1="1850" y1="2166" x2="1850" y2="2966"/>
<line x1="1225.3" y1="2470" x2="1225.3" y2="2966"/>
<line x1="1225.3" y1="2922.4" x2="1850" y2="2922.4"/>
<line x1="938.4" y1="2453.1" x2="1196.5" y2="2453.1"/>
<line x1="999.1" y1="2453.1" x2="999.1" y2="2603"/>
</g>
<g stroke="#2a2a2a" stroke-width="2" fill="none">
<line x1="1103.4" y1="2338.2" x2="1212.4" y2="2447.1"/>
<line x1="1231.1" y1="2214" x2="1348.3" y2="2331.1"/>
<line x1="1131.6" y1="2362.8" x2="1258.1" y2="2239.8"/>
<line x1="1374.2" y1="2330.6" x2="1580.4" y2="2163.1"/>
<line x1="1704.4" y1="2158.3" x2="1678.6" y2="2303.3"/>
<line x1="1487" y1="2493" x2="1399" y2="2672"/>
<line x1="1995" y1="2738.7" x2="2080.1" y2="2823.8"/>
</g>
<g fill="#111">
<polygon points="2157,2602 2145,2596.5 2145,2607.5"/>
<polygon points="1850,2157 1844.5,2169 1855.5,2169"/>
<circle cx="999.1" cy="2453.1" r="3.5"/><circle cx="999.1" cy="2603" r="3.5"/>
<circle cx="1131.6" cy="2362.8" r="3.5"/><circle cx="1258.1" cy="2239.8" r="3.5"/>
<circle cx="1487" cy="2493" r="3"/><circle cx="1995" cy="2738.7" r="3"/><circle cx="1678.6" cy="2303.3" r="2.5"/>
</g>
<g font-family="Liberation Sans, sans-serif" font-size="33" fill="#1b1b1f" stroke="#1b1b1f" stroke-width="0.6">
<text x="1655" y="2116.4" font-size="36" textLength="88" lengthAdjust="spacingAndGlyphs">R0.56</text>
<text x="1835" y="2126" font-size="32">Y</text>
<text x="2171" y="2615" font-size="38" font-style="italic">X</text>
<text x="1334.5" y="2709" font-size="36" textLength="89" lengthAdjust="spacingAndGlyphs">R0.34</text>
<text x="2039.5" y="2852.5" font-size="36" textLength="105.5" lengthAdjust="spacingAndGlyphs">R0.188</text>
<text x="1508" y="2895.5" font-size="39" textLength="64" lengthAdjust="spacingAndGlyphs">0.57</text>
<text x="837.4" y="2819.3" textLength="119.2" lengthAdjust="spacingAndGlyphs">Unit: in.</text>
<text x="840" y="2879.2" textLength="301.5" lengthAdjust="spacingAndGlyphs">Thickness: 0.125 in.</text>
<text transform="translate(966,2519) rotate(-90)" text-anchor="middle" textLength="82" lengthAdjust="spacingAndGlyphs">0.125</text>
<text transform="translate(1179,2282) rotate(-44)" text-anchor="middle" font-size="31" textLength="68" lengthAdjust="spacingAndGlyphs">0.16</text>
<text transform="translate(1444,2224) rotate(-40)" text-anchor="middle" textLength="150" lengthAdjust="spacingAndGlyphs">Slope: 40°</text>
</g>
</svg>
</body></html>
